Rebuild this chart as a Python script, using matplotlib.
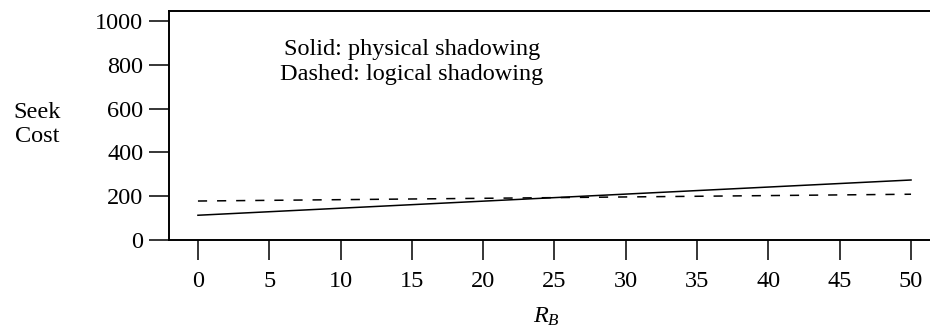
import matplotlib
matplotlib.use("Agg")
import matplotlib.pyplot as plt

plt.rcParams['font.family'] = ['Liberation Serif', 'DejaVu Serif']
plt.rcParams['mathtext.fontset'] = 'custom'
plt.rcParams['mathtext.rm'] = 'Liberation Serif'
plt.rcParams['mathtext.it'] = 'Liberation Serif:italic'

# data
rb = [0, 50]
physical = [113, 274]   # solid
logical = [178, 209]    # dashed
xticks = [0, 5, 10, 15, 20, 25, 30, 35, 40, 45, 50]
yticks = [0, 200, 400, 600, 800, 1000]

fig = plt.figure(figsize=(9.3, 3.33), dpi=100)
ax = fig.add_axes([169 / 930, 93 / 333, 761 / 930, 229.5 / 333])

ax.plot(rb, physical, color='black', lw=1.1)
ax.plot(rb, logical, color='black', lw=1.1, dashes=(6, 6.5))

ax.set_xlim(-2.03, 51.33)
ax.set_ylim(0, 1048)
ax.set_xticks(xticks)
ax.set_yticks(yticks)

ax.spines['right'].set_visible(False)
for s in ['left', 'top', 'bottom']:
    ax.spines[s].set_linewidth(1.4)

ax.tick_params(direction='out', length=14.4, width=1.1, labelsize=17.5)
ax.tick_params(axis='x', pad=8)
ax.tick_params(axis='y', pad=4)

ax.set_xlabel('$R_B$', fontsize=17.5, va='center')
ax.xaxis.set_label_coords(0.496, -0.335)
ax.set_ylabel('Seek\nCost', fontsize=17.5, rotation=0, ha='center', va='center',
              multialignment='center', linespacing=1.2)
ax.yaxis.set_label_coords(-0.1735, 0.505)

ax.text(15, 815, 'Solid: physical shadowing\nDashed: logical shadowing',
        fontsize=17.5, ha='center', va='center', multialignment='center',
        linespacing=1.25)

fig.savefig('out.png', dpi=100)
